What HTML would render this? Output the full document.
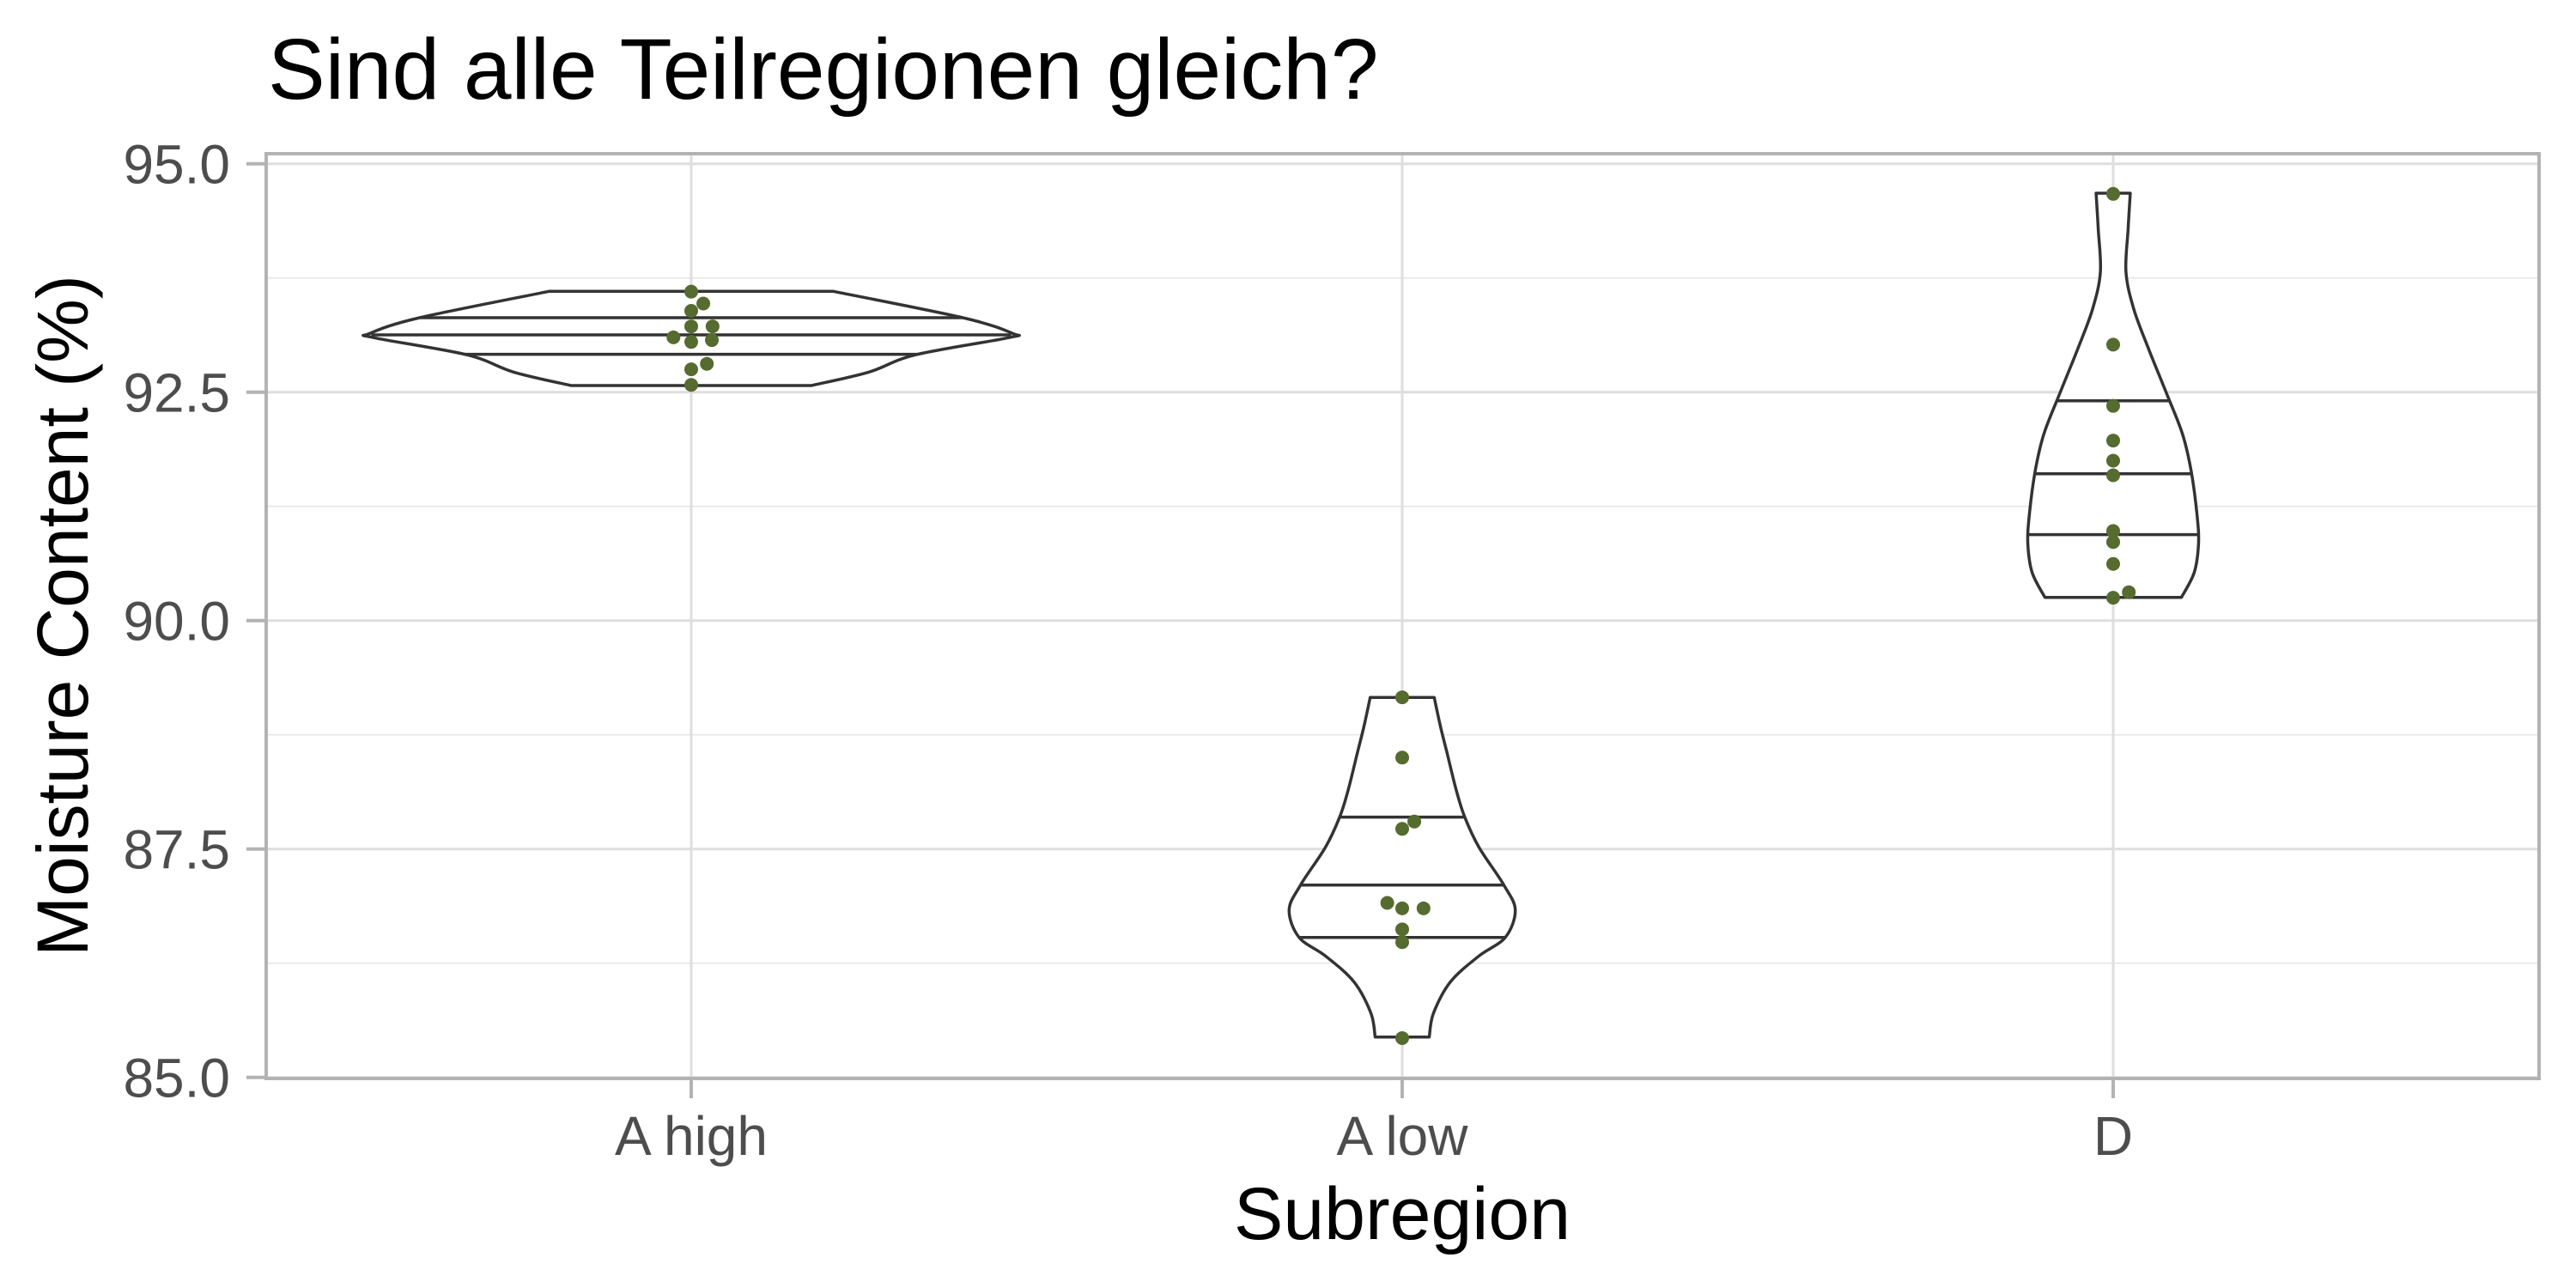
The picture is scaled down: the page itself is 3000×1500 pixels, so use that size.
<!DOCTYPE html>
<html><head><meta charset="utf-8"><style>
html,body{margin:0;padding:0;background:#fff;}
svg{display:block;font-family:"Liberation Sans",Arial,sans-serif;}
</style></head><body>
<svg id="chart" width="3000" height="1500" viewBox="0 0 3000 1500" xmlns="http://www.w3.org/2000/svg">
<text x="312" y="115" font-size="100" fill="#000">Sind alle Teilregionen gleich?</text>
<g id="grid"></g>
<g id="violins"></g>
<g id="points"></g>
<rect x="310" y="179" width="2647" height="1077" fill="none" stroke="#B3B3B3" stroke-width="4"/>
<g id="axes"></g>
<text x="1633" y="1443" font-size="86" text-anchor="middle" fill="#000">Subregion</text>
<text transform="translate(102,717) rotate(-90)" font-size="84" text-anchor="middle" fill="#000">Moisture Content (%)</text>
</svg>
<script>
const categories = ["A high", "A low", "D"];
const yTicks = [85, 87.5, 90, 92.5, 95];
const yTickLabels = ["85.0", "87.5", "90.0", "92.5", "95.0"];
const yMinor = [86.25, 88.75, 91.25, 93.75];
// violin profiles: values and half-widths (fraction of category spacing)
const profAHighV = [93.603, 93.315, 93.143, 93.096, 92.908, 92.720, 92.572];
const profAHighW = [0.200, 0.382, 0.452, 0.446, 0.315, 0.250, 0.169];
const profALowV = [89.158, 88.835, 88.522, 88.146, 87.848, 87.519, 87.105, 86.830, 86.532, 86.329, 86.047, 85.702, 85.442];
const profALowW = [0.045, 0.054, 0.064, 0.076, 0.088, 0.108, 0.143, 0.159, 0.145, 0.108, 0.068, 0.044, 0.038];
const profDV = [94.678, 94.286, 93.816, 93.409, 92.970, 92.469, 92.030, 91.623, 91.153, 90.840, 90.526, 90.254];
const profDW = [0.024, 0.021, 0.018, 0.029, 0.050, 0.076, 0.098, 0.110, 0.118, 0.120, 0.114, 0.096];
const quantAHigh = [93.315, 93.127, 92.914];
const quantALow = [87.848, 87.105, 86.532];
const quantD = [92.406, 91.607, 90.940];
// points
const ptsAHigh = [93.60, 93.47, 93.39, 93.22, 93.22, 93.10, 93.07, 93.05, 92.81, 92.75, 92.58];
const jitAHigh = [0, 0.017, 0, 0, 0.030, -0.025, 0.029, 0, 0.022, 0, 0];
const ptsALow = [89.16, 88.50, 87.80, 87.72, 86.91, 86.85, 86.85, 86.62, 86.48, 85.43];
const jitALow = [0, 0, 0.017, 0, -0.021, 0, 0.030, 0, 0, 0];
const ptsD = [94.67, 93.02, 92.35, 91.97, 91.75, 91.59, 90.98, 90.86, 90.62, 90.31, 90.25];
const jitD = [0, 0, 0, 0, 0, 0, 0, 0, 0, 0.022, 0];

const NS = "http://www.w3.org/2000/svg";
const PL = 310, PR = 2957, PT = 179, PB = 1256;
const SP = 828;
function xScale(i){ return 805 + i * SP; }
function yScale(v){ return 190.7 + (95 - v) * 106.4; }
function mk(tag, attrs, parent){ const e = document.createElementNS(NS, tag); for (const k in attrs) e.setAttribute(k, attrs[k]); parent.appendChild(e); return e; }

const grid = document.getElementById("grid");
yMinor.forEach(v => {
  const l = mk("line", {x1:PL, x2:PR, y1:yScale(v), y2:yScale(v), stroke:"#E6E6E6", "stroke-width":1.6}, grid);
  
  
});
yTicks.forEach(v => {
  const l = mk("line", {x1:PL, x2:PR, y1:yScale(v), y2:yScale(v), stroke:"#DEDEDE", "stroke-width":3}, grid);
  
  
});
categories.forEach((c, i) => {
  const l = mk("line", {x1:xScale(i), x2:xScale(i), y1:PT, y2:PB, stroke:"#DEDEDE", "stroke-width":3}, grid);
  
  
});

const axes = document.getElementById("axes");
yTicks.forEach((v, i) => {
  const t = mk("line", {x1:287, x2:310, y1:yScale(v), y2:yScale(v), stroke:"#B3B3B3", "stroke-width":4}, axes);
  
  
  const tx = mk("text", {x:268, y:yScale(v)+23, "font-size":64, "text-anchor":"end", fill:"#4D4D4D"}, axes);
  tx.textContent = yTickLabels[i];
  
  
});
categories.forEach((c, i) => {
  const t = mk("line", {x1:xScale(i), x2:xScale(i), y1:PB, y2:PB+23, stroke:"#B3B3B3", "stroke-width":4}, axes);
  
  
  const tx = mk("text", {x:xScale(i), y:1345, "font-size":64, "text-anchor":"middle", fill:"#4D4D4D"}, axes);
  tx.textContent = c;
  
  
});

const profV = [profAHighV, profALowV, profDV];
const profW = [profAHighW, profALowW, profDW];
const quants = [quantAHigh, quantALow, quantD];
const pts = [ptsAHigh, ptsALow, ptsD];
const jits = [jitAHigh, jitALow, jitD];

function halfAt(V, W, v){
  for (let k = 0; k < V.length - 1; k++) {
    if (v <= V[k] && v >= V[k+1]) { const f = (V[k]-v)/(V[k]-V[k+1]); return W[k] + f*(W[k+1]-W[k]); }
  }
  return W[W.length-1];
}
function smooth(P){
  let d = "";
  for (let k = 0; k < P.length - 1; k++) {
    const p0 = P[Math.max(k-1,0)], p1 = P[k], p2 = P[k+1], p3 = P[Math.min(k+2,P.length-1)];
    const c1 = [p1[0] + (p2[0]-p0[0])/6, p1[1] + (p2[1]-p0[1])/6];
    const c2 = [p2[0] - (p3[0]-p1[0])/6, p2[1] - (p3[1]-p1[1])/6];
    d += " C" + c1[0].toFixed(1)+","+c1[1].toFixed(1)+" "+c2[0].toFixed(1)+","+c2[1].toFixed(1)+" "+p2[0].toFixed(1)+","+p2[1].toFixed(1);
  }
  return d;
}
const vg = document.getElementById("violins");
categories.forEach((c, i) => {
  const V = profV[i], W = profW[i], cx = xScale(i);
  const right = V.map((v,k) => [cx + W[k]*SP, yScale(v)]);
  const left = V.map((v,k) => [cx - W[k]*SP, yScale(v)]).reverse();
  const d = "M" + right[0][0].toFixed(1) + "," + right[0][1].toFixed(1) + smooth(right) +
            " L" + left[0][0].toFixed(1) + "," + left[0][1].toFixed(1) + smooth(left) + " Z";
  const p = mk("path", {d:d, fill:"#fff", stroke:"#333333", "stroke-width":3.5, "stroke-linejoin":"round"}, vg);
  
  
  quants[i].forEach(q => {
    const h = halfAt(V, W, q) * SP;
    const l = mk("line", {x1:cx-h, x2:cx+h, y1:yScale(q), y2:yScale(q), stroke:"#333333", "stroke-width":3.5}, vg);
    
    
  });
});
const pg = document.getElementById("points");
categories.forEach((c, i) => {
  pts[i].forEach((v, k) => {
    const e = mk("circle", {cx:xScale(i) + jits[i][k]*SP, cy:yScale(v), r:8, fill:"#556B2F"}, pg);
    
    
  });
});
</script>
</body></html>
